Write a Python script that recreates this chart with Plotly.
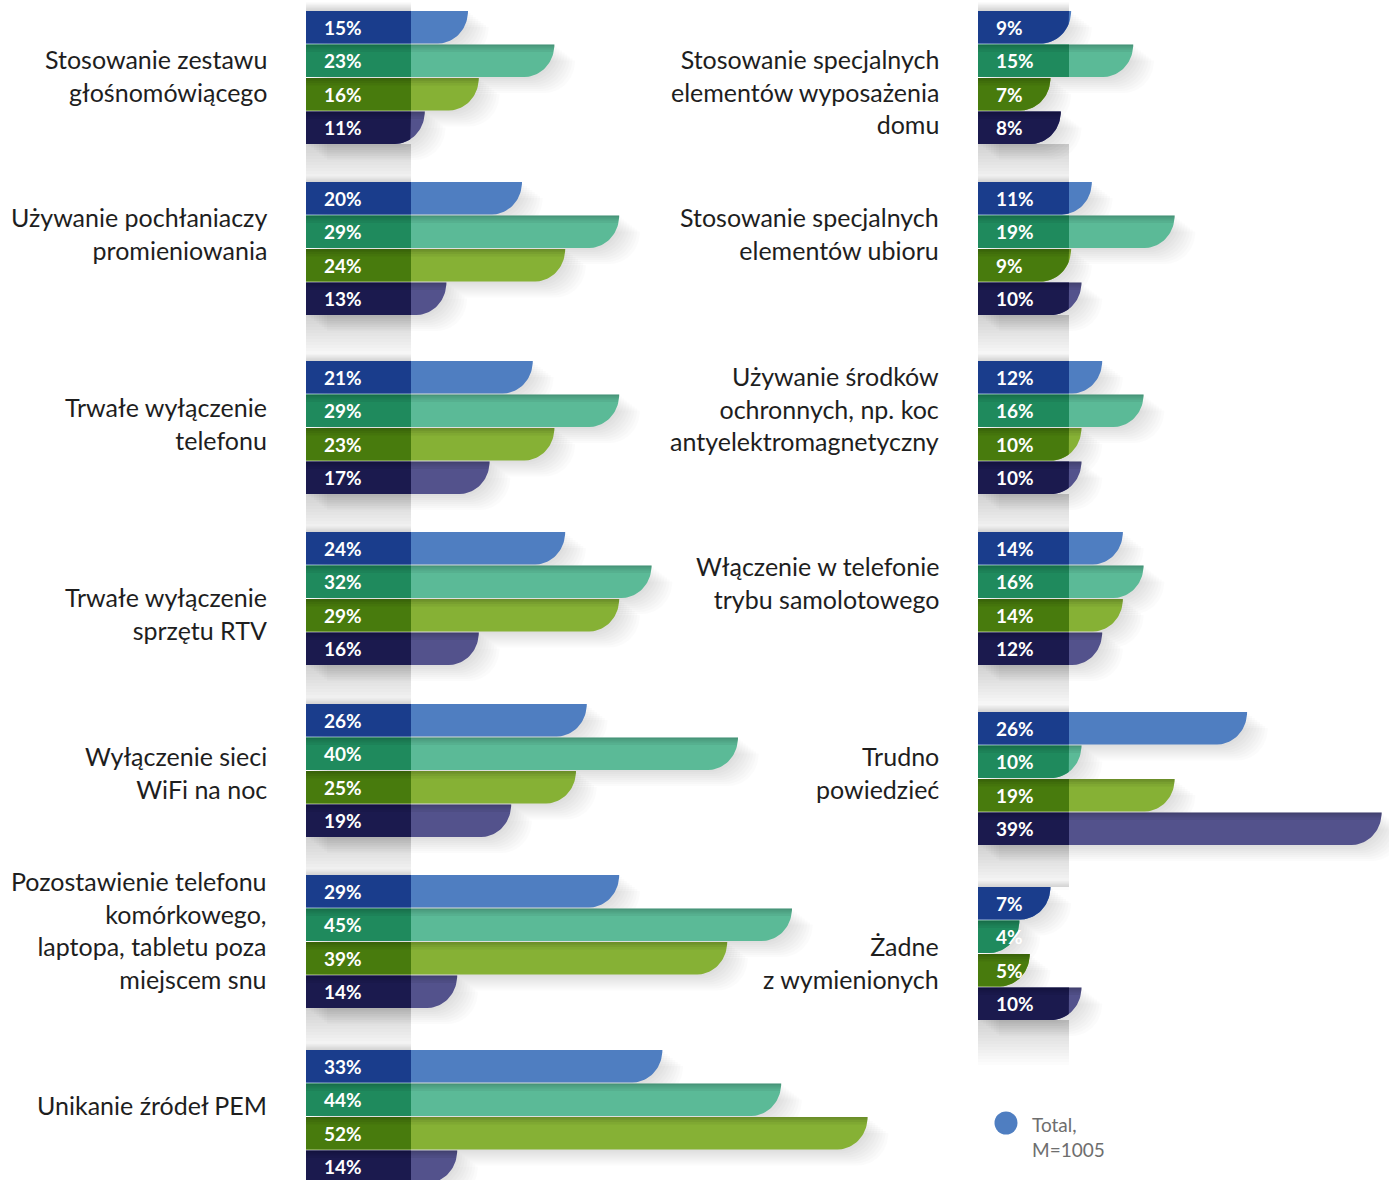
import numpy as np
import plotly.graph_objects as go

# ---------------------------------------------------------------- data
left_categories = [
    "Stosowanie zestawu<br>głośnomówiącego",
    "Używanie pochłaniaczy<br>promieniowania",
    "Trwałe wyłączenie<br>telefonu",
    "Trwałe wyłączenie<br>sprzętu RTV",
    "Wyłączenie sieci<br>WiFi na noc",
    "Pozostawienie telefonu<br>komórkowego,<br>laptopa, tabletu poza<br>miejscem snu",
    "Unikanie źródeł PEM",
]
right_categories = [
    "Stosowanie specjalnych<br>elementów wyposażenia<br>domu",
    "Stosowanie specjalnych<br>elementów ubioru",
    "Używanie środków<br>ochronnych, np. koc<br>antyelektromagnetyczny",
    "Włączenie w telefonie<br>trybu samolotowego",
    "Trudno<br>powiedzieć",
    "Żadne<br>z wymienionych",
]

# one list per series, in category order
left_s1 = [15, 20, 21, 24, 26, 29, 33]
left_s2 = [23, 29, 29, 32, 40, 45, 44]
left_s3 = [16, 24, 23, 29, 25, 39, 52]
left_s4 = [11, 13, 17, 16, 19, 14, 14]

right_s1 = [9, 11, 12, 14, 26, 7]
right_s2 = [15, 19, 16, 16, 10, 4]
right_s3 = [7, 9, 10, 14, 19, 5]
right_s4 = [8, 10, 10, 12, 39, 10]

legend_label = "Total,<br>M=1005"

# ---------------------------------------------------------------- styling
W, H = 1389, 1180
BAR_H = 32.5
BAR_PITCH = 33.5
RADIUS = 30.0             # rounded lower-right corner, px

light = ["#4f7ec1", "#5bba97", "#86b135", "#53528c"]
dark = ["#1a3d8c", "#1f8a5d", "#487b0d", "#1b1a4e"]

panels = [
    dict(xa="x", cats=left_categories, series=[left_s1, left_s2, left_s3, left_s4],
         x0=306, px=10.8, box=105, label_x=269,
         tops=[11, 182, 361, 532, 704, 875, 1050],
         label_y=[75, 233, 423, 613, 772, 930, 1105]),
    dict(xa="x2", cats=right_categories, series=[right_s1, right_s2, right_s3, right_s4],
         x0=978, px=10.35, box=91, label_x=941,
         tops=[11, 182, 361, 532, 712, 887],
         label_y=[91, 233, 408, 582, 772, 962]),
]


def bar_outline(v, top, px, h=BAR_H, dx=0.0, dy=0.0):
    """Bar outline in axis units: straight top edge, quarter-round lower-right end."""
    rx = min(RADIUS / px, v)
    th = np.linspace(0, np.pi / 2, 24)
    cx = v - rx + rx * np.cos(th)
    cy = top + h * np.sin(th)
    xs = np.concatenate([[0, v], cx, [0, 0]]) + dx / px
    ys = np.concatenate([[top, top], cy, [top + h, top]]) + dy
    return xs, ys


def join(polys):
    xs, ys = [], []
    for px_, py_ in polys:
        xs += list(px_) + [None]
        ys += list(py_) + [None]
    return xs, ys


fig = go.Figure()


def add_poly(polys, xa, color, name):
    xs, ys = join(polys)
    fig.add_trace(go.Scatter(
        x=xs, y=ys, xaxis=xa, yaxis="y", mode="lines", fill="toself",
        fillcolor=color, line=dict(width=0), hoverinfo="skip",
        showlegend=False, name=name))


for p in panels:
    xa, px = p["xa"], p["px"]
    box_u = p["box"] / px

    # soft drop shadows, drawn first
    for k in range(1, 9):
        polys = []
        for g, top in enumerate(p["tops"]):
            for s, vals in enumerate(p["series"]):
                polys.append(bar_outline(vals[g], top + s * BAR_PITCH, px,
                                         dx=2.6 * k, dy=2.0 * k))
        add_poly(polys, xa, "rgba(0,0,0,0.017)", "shadow")

    # shading beneath each group behind the label boxes
    for d in range(3, 46, 3):
        polys = []
        for g, top in enumerate(p["tops"]):
            b = top + 3 * BAR_PITCH + BAR_H
            polys.append(([0, box_u, box_u, 0, 0], [b, b, b + d, b + d, b]))
            u = d * 0.2
            polys.append(([0, box_u, box_u, 0, 0], [top - u, top - u, top, top, top - u]))
        add_poly(polys, xa, "rgba(0,0,0,0.011)", "shade")

    # bars: light full length, dark label box on top
    for s, vals in enumerate(p["series"]):
        full, boxes = [], []
        for g, top in enumerate(p["tops"]):
            t = top + s * BAR_PITCH
            bx, by = bar_outline(vals[g], t, px)
            full.append((bx, by))
            boxes.append((np.minimum(bx, box_u), by))
        add_poly(full, xa, light[s], f"seria {s + 1}")
        add_poly(boxes, xa, dark[s], f"seria {s + 1}")

    # shading cast by the bar above onto bars 2-4
    for k in [1.5, 3, 5, 7.5]:
        polys = []
        for g, top in enumerate(p["tops"]):
            for s in range(1, 4):
                t = top + s * BAR_PITCH
                bx, by = bar_outline(p["series"][s][g], t, px)
                polys.append((bx, np.minimum(by, t + k)))
        add_poly(polys, xa, "rgba(0,0,0,0.05)", "inner")

    # percentage labels
    for g, top in enumerate(p["tops"]):
        for s, vals in enumerate(p["series"]):
            fig.add_annotation(
                x=0, y=top + s * BAR_PITCH + BAR_H / 2, xref=xa, yref="y",
                text=f"<b>{vals[g]}%</b>", showarrow=False, xanchor="left",
                yanchor="middle", xshift=16,
                font=dict(family="Lato", size=19, color="white"))

    # category labels
    for g, cat in enumerate(p["cats"]):
        fig.add_annotation(
            x=p["label_x"] / W, y=p["label_y"][g], xref="paper", yref="y",
            text=cat, showarrow=False, xanchor="right", yanchor="middle",
            align="right", font=dict(family="Lato", size=25, color="#1e1e1e"))

# legend marker and text
px_r = panels[1]["px"]
fig.add_trace(go.Scatter(
    x=[(1006 - 978) / px_r], y=[1123], xaxis="x2", yaxis="y", mode="markers",
    marker=dict(size=23, color=light[0]), hoverinfo="skip", showlegend=False,
    name="Total"))
fig.add_annotation(
    x=(1030 - 978) / px_r, y=1137, xref="x2", yref="y", text=legend_label,
    showarrow=False, xanchor="left", yanchor="middle", align="left",
    font=dict(family="Lato", size=19, color="#6e6e6e"))

axis_off = dict(visible=False, showgrid=False, zeroline=False, fixedrange=True)
fig.update_layout(
    width=W, height=H, margin=dict(l=0, r=0, t=0, b=0),
    paper_bgcolor="white", plot_bgcolor="white", showlegend=False,
    xaxis=dict(domain=[306 / W, 1], range=[0, (W - 306) / panels[0]["px"]], **axis_off),
    xaxis2=dict(domain=[978 / W, 1], range=[0, (W - 978) / px_r], **axis_off),
    yaxis=dict(domain=[0, 1], range=[H, 0], **axis_off),
)

fig.write_html("out.html")
